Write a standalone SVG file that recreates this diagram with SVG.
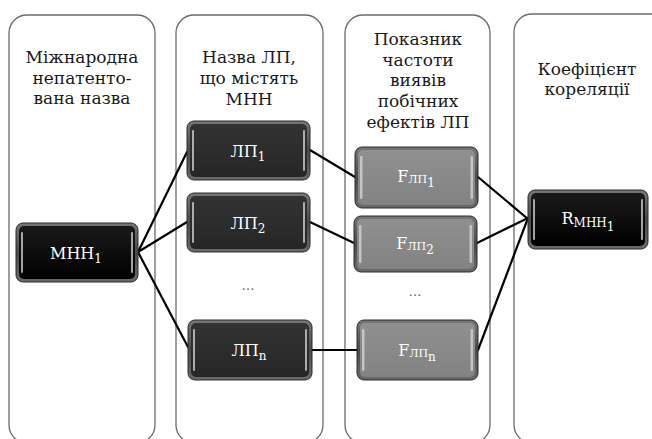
<svg xmlns="http://www.w3.org/2000/svg" width="652" height="439" viewBox="0 0 652 439">
<defs>
<linearGradient id="gBlack" x1="0" y1="0" x2="0" y2="1"><stop offset="0" stop-color="#1a1a1a"/><stop offset="1" stop-color="#000"/></linearGradient>
<linearGradient id="gDark" x1="0" y1="0" x2="0" y2="1"><stop offset="0" stop-color="#333"/><stop offset="1" stop-color="#262626"/></linearGradient>
<linearGradient id="gGray" x1="0" y1="0" x2="0" y2="1"><stop offset="0" stop-color="#909090"/><stop offset="1" stop-color="#828282"/></linearGradient>
<linearGradient id="gRim" x1="0" y1="0" x2="0" y2="1"><stop offset="0" stop-color="#777"/><stop offset="0.5" stop-color="#4a4a4a"/><stop offset="1" stop-color="#6a6a6a"/></linearGradient>
</defs>
<style>
.col{fill:#fff;stroke:#6b6b6b;stroke-width:1.3}
.hd{font-family:"DejaVu Serif",serif;font-size:17px;fill:#1a1a1a;text-anchor:middle}
.rim{fill:url(#gRim);stroke:#2a2a2a;stroke-width:1}
.hl{fill:#d8d8d8;opacity:0.75}
.nt{font-family:"DejaVu Serif",serif;font-size:16px;fill:#fff;text-anchor:middle}
.dots{font-family:"DejaVu Serif",serif;font-size:13px;fill:#666;text-anchor:middle}
.cn{stroke:#000;stroke-width:2.2;fill:none;stroke-linecap:round}
</style>
<rect width="652" height="439" fill="#fff"/>
<g id="columns">
<rect class="col" x="9" y="15" width="146" height="428" rx="18"/>
<rect class="col" x="176" y="15" width="147" height="428" rx="18"/>
<rect class="col" x="345" y="15" width="145" height="428" rx="18"/>
<rect class="col" x="514" y="14" width="160" height="429" rx="18"/>
</g>
<g id="headers">
<text class="hd" x="82" y="63">Міжнародна</text>
<text class="hd" x="82" y="84">непатенто-</text>
<text class="hd" x="82" y="104">вана назва</text>
<text class="hd" x="249" y="63">Назва ЛП,</text>
<text class="hd" x="249" y="84">що містять</text>
<text class="hd" x="249" y="105">МНН</text>
<text class="hd" x="418" y="45">Показник</text>
<text class="hd" x="418" y="66">частоти</text>
<text class="hd" x="418" y="86">виявів</text>
<text class="hd" x="418" y="107">побічних</text>
<text class="hd" x="418" y="128">ефектів ЛП</text>
<text class="hd" x="587" y="75">Коефіцієнт</text>
<text class="hd" x="587" y="95">кореляції</text>
</g>
<g id="connectors">
<line class="cn" x1="138" y1="252" x2="187" y2="152"/>
<line class="cn" x1="138" y1="252" x2="187" y2="222"/>
<line class="cn" x1="138" y1="252" x2="188" y2="347"/>
<line class="cn" x1="310" y1="150" x2="355" y2="177"/>
<line class="cn" x1="310" y1="222" x2="354" y2="243"/>
<line class="cn" x1="312" y1="350" x2="357" y2="350"/>
<line class="cn" x1="478" y1="177" x2="528" y2="219"/>
<line class="cn" x1="477" y1="243" x2="528" y2="218"/>
<line class="cn" x1="478" y1="350" x2="528" y2="218"/>
</g>
<g id="mnn1">
<rect class="rim" x="16" y="223" width="122" height="59" rx="7"/>
<rect x="19" y="226" width="116" height="53" rx="5" fill="url(#gBlack)"/>
<rect class="hl" x="21" y="232" width="2" height="41" rx="1"/>
<rect class="hl" x="131" y="232" width="2" height="41" rx="1"/>
<text class="nt" x="76" y="259">МНН<tspan font-size="12" dy="4">1</tspan></text>
</g>
<g id="lp1">
<rect class="rim" x="187" y="121" width="123" height="59" rx="7"/>
<rect x="190" y="124" width="117" height="53" rx="5" fill="url(#gDark)"/>
<rect class="hl" x="192" y="130" width="2" height="41" rx="1"/>
<rect class="hl" x="303" y="130" width="2" height="41" rx="1"/>
<text class="nt" x="248" y="157">ЛП<tspan font-size="12" dy="4">1</tspan></text>
</g>
<g id="lp2">
<rect class="rim" x="187" y="193" width="123" height="59" rx="7"/>
<rect x="190" y="196" width="117" height="53" rx="5" fill="url(#gDark)"/>
<rect class="hl" x="192" y="202" width="2" height="41" rx="1"/>
<rect class="hl" x="303" y="202" width="2" height="41" rx="1"/>
<text class="nt" x="248" y="229">ЛП<tspan font-size="12" dy="4">2</tspan></text>
</g>
<text class="dots" x="248" y="290">…</text>
<g id="lpn">
<rect class="rim" x="188" y="320" width="124" height="60" rx="7"/>
<rect x="191" y="323" width="118" height="54" rx="5" fill="url(#gDark)"/>
<rect class="hl" x="193" y="329" width="2" height="42" rx="1"/>
<rect class="hl" x="305" y="329" width="2" height="42" rx="1"/>
<text class="nt" x="249" y="356">ЛП<tspan font-size="12" dy="4">n</tspan></text>
</g>
<g id="flp1">
<rect class="rim" x="355" y="147" width="123" height="61" rx="7"/>
<rect x="358" y="150" width="117" height="55" rx="5" fill="url(#gGray)"/>
<rect class="hl" x="360" y="156" width="2.5" height="43" rx="1"/>
<rect class="hl" x="470.5" y="156" width="2.5" height="43" rx="1"/>
<text class="nt" x="416" y="182">F<tspan font-size="11" dy="1">ЛП</tspan><tspan font-size="12" dy="4">1</tspan></text>
</g>
<g id="flp2">
<rect class="rim" x="354" y="216" width="123" height="56" rx="7"/>
<rect x="357" y="219" width="117" height="50" rx="5" fill="url(#gGray)"/>
<rect class="hl" x="359" y="225" width="2.5" height="38" rx="1"/>
<rect class="hl" x="469.5" y="225" width="2.5" height="38" rx="1"/>
<text class="nt" x="415" y="249">F<tspan font-size="11" dy="1">ЛП</tspan><tspan font-size="12" dy="4">2</tspan></text>
</g>
<text class="dots" x="415" y="296">…</text>
<g id="flpn">
<rect class="rim" x="357" y="320" width="121" height="60" rx="7"/>
<rect x="360" y="323" width="115" height="54" rx="5" fill="url(#gGray)"/>
<rect class="hl" x="362" y="329" width="2.5" height="42" rx="1"/>
<rect class="hl" x="470.5" y="329" width="2.5" height="42" rx="1"/>
<text class="nt" x="417" y="356">F<tspan font-size="11" dy="1">ЛП</tspan><tspan font-size="12" dy="4">n</tspan></text>
</g>
<g id="r">
<rect class="rim" x="528" y="190" width="120" height="59" rx="7"/>
<rect x="531" y="193" width="114" height="53" rx="5" fill="url(#gBlack)"/>
<rect class="hl" x="533" y="199" width="2" height="41" rx="1"/>
<rect class="hl" x="641" y="199" width="2" height="41" rx="1"/>
<text class="nt" x="588" y="224" font-size="18">R<tspan font-size="12" dy="3">МНН</tspan><tspan font-size="12" dy="4">1</tspan></text>
</g>
</svg>
